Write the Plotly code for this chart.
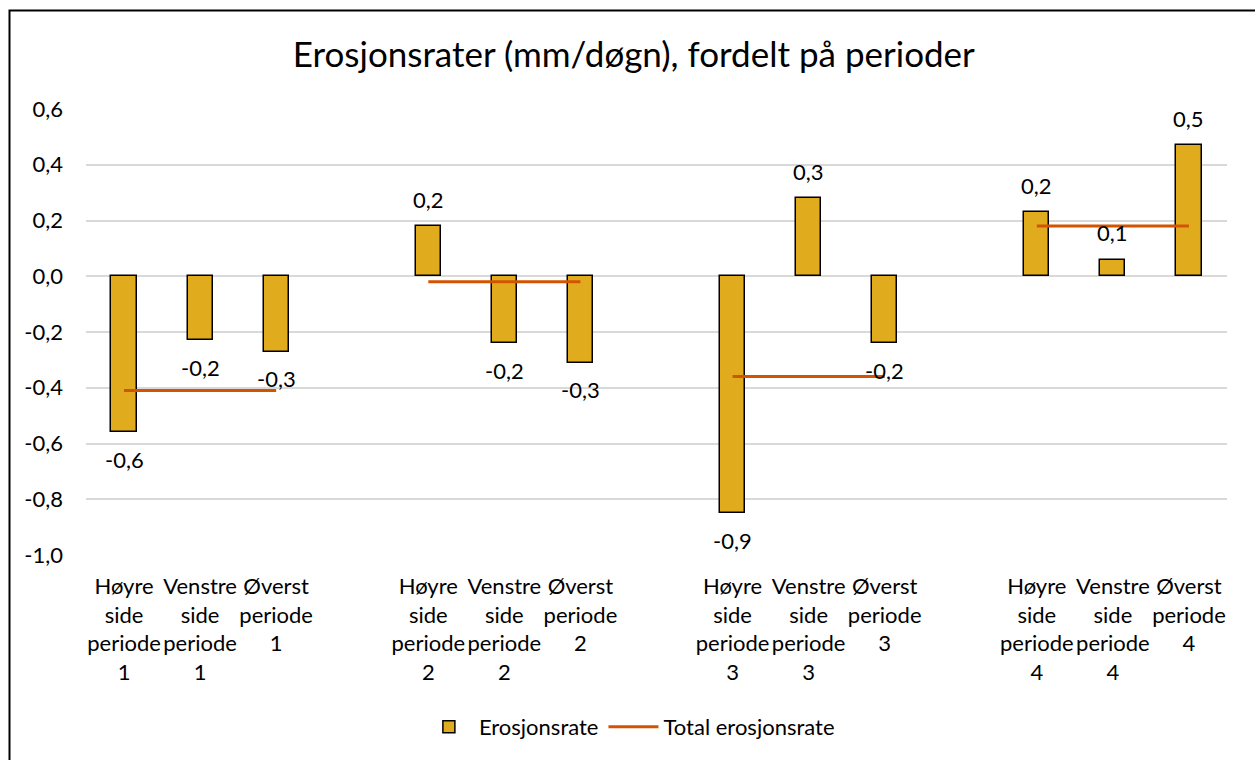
import plotly.graph_objects as go
from decimal import Decimal, ROUND_HALF_UP

# ---- data ----
categories = [
    "Høyre<br>side<br>periode<br>1", "Venstre<br>side<br>periode<br>1", "Øverst<br>periode<br>1", "",
    "Høyre<br>side<br>periode<br>2", "Venstre<br>side<br>periode<br>2", "Øverst<br>periode<br>2", "",
    "Høyre<br>side<br>periode<br>3", "Venstre<br>side<br>periode<br>3", "Øverst<br>periode<br>3", "",
    "Høyre<br>side<br>periode<br>4", "Venstre<br>side<br>periode<br>4", "Øverst<br>periode<br>4",
]
erosjonsrate = [-0.56, -0.23, -0.27, None,
                0.18, -0.24, -0.31, None,
                -0.85, 0.28, -0.24, None,
                0.23, 0.06, 0.47]
total_erosjonsrate = [-0.41, -0.41, -0.41, None,
                      -0.02, -0.02, -0.02, None,
                      -0.36, -0.36, -0.36, None,
                      0.18, 0.18, 0.18]
y_ticks = [0.6, 0.4, 0.2, 0.0, -0.2, -0.4, -0.6, -0.8, -1.0]

FONT = "Lato"
x_idx = list(range(len(categories)))


def fmt(v):
    d = Decimal(str(v)).quantize(Decimal("0.1"), rounding=ROUND_HALF_UP)
    return f"{d}".replace(".", ",")


fig = go.Figure()
fig.add_trace(go.Bar(
    x=x_idx, y=erosjonsrate, name="Erosjonsrate",
    marker=dict(color="#E0AC1E", line=dict(color="#000000", width=1.5)),
    width=0.33,
))
fig.add_trace(go.Scatter(
    x=x_idx, y=total_erosjonsrate, name="Total erosjonsrate",
    mode="lines", line=dict(color="#D35400", width=3),
    connectgaps=False,
))

annotations = []
for i, v in enumerate(erosjonsrate):
    if v is None:
        continue
    annotations.append(dict(
        x=i, y=v, xref="x", yref="y", text=fmt(v), showarrow=False,
        yshift=27 if v >= 0 else -27, yanchor="middle",
        font=dict(family=FONT, size=22, color="#000000"),
    ))

fig.update_layout(
    width=1255, height=760,
    margin=dict(l=86, r=28, t=109, b=205),
    paper_bgcolor="white", plot_bgcolor="white",
    font=dict(family=FONT, size=22, color="#000000"),
    title=dict(text="Erosjonsrater (mm/døgn), fordelt på perioder",
               x=0.505, xanchor="center", xref="container",
               y=1 - 55 / 760, yanchor="middle", yref="container",
               font=dict(family=FONT, size=35, color="#000000")),
    showlegend=True,
    legend=dict(orientation="h", xref="container", yref="container",
                x=0.5015, xanchor="center", y=1 - 727 / 760, yanchor="middle",
                font=dict(family=FONT, size=22, color="#000000"),
                itemwidth=50, tracegroupgap=0),
    annotations=annotations,
    bargap=0,
    shapes=[dict(type="rect", xref="paper", yref="paper",
                 x0=(9.5 - 86) / 1141, x1=(1275 - 86) / 1141,
                 y0=(555.3 - 780) / 446.6, y1=(555.3 - 10) / 446.6,
                 line=dict(color="#000000", width=2), layer="above")],
)
fig.update_xaxes(
    range=[-0.5, len(categories) - 0.5],
    tickvals=x_idx, ticktext=categories,
    showgrid=False, zeroline=False, showline=False, ticks="",
    tickangle=0, ticklabelstandoff=16,
    tickfont=dict(family=FONT, size=22, color="#000000"),
)
fig.update_yaxes(
    range=[-1.0, 0.6], tickvals=y_ticks,
    ticktext=[fmt(v) for v in y_ticks],
    showgrid=True, gridcolor="#D9D9D9", gridwidth=1.5,
    zeroline=False, showline=False, ticks="",
    ticklabelstandoff=22,
    tickfont=dict(family=FONT, size=22, color="#000000"),
)

fig.write_html("out.html", config={"displayModeBar": False},
               post_script="document.body.style.margin='0';document.body.style.overflow='hidden';")
